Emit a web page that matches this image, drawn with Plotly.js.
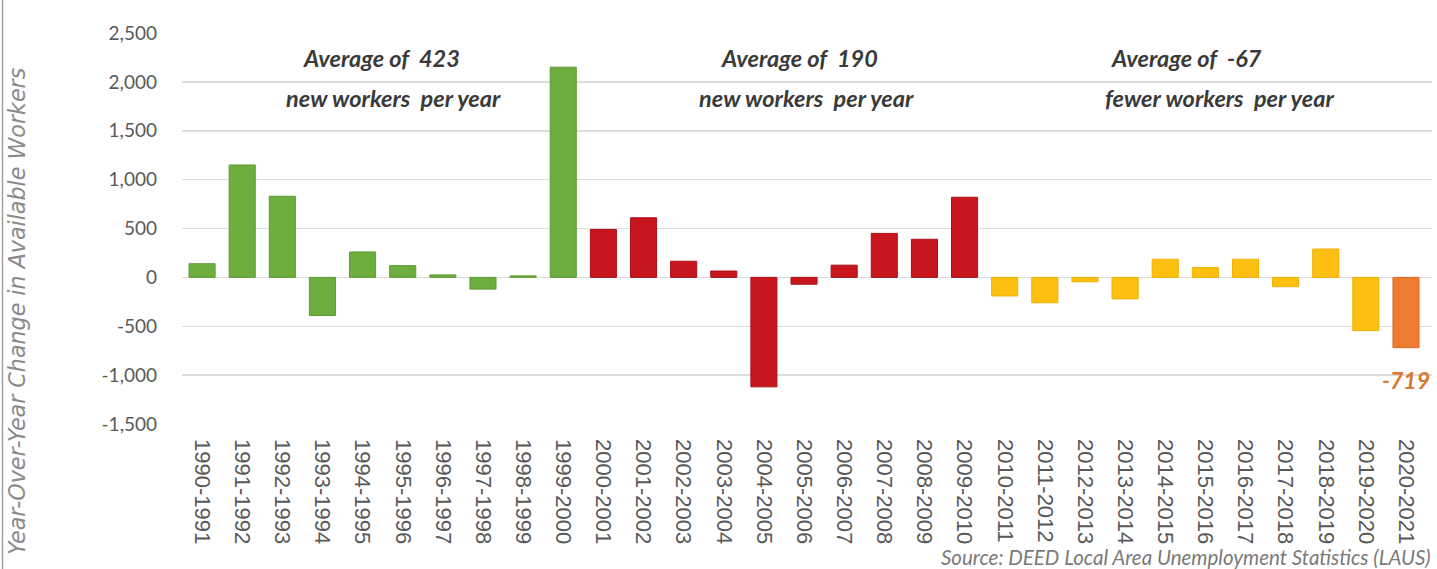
<!DOCTYPE html>
<html>
<head>
<meta charset="utf-8">
<script src="https://cdn.plot.ly/plotly-3.0.1.min.js"></script>
<style>
  html, body { margin: 0; padding: 0; background: #ffffff; }
  #chart { width: 1437px; height: 569px; }
</style>
</head>
<body>
<div id="chart"></div>
<script>
// ---- Data ----
const periods = [
  "1990-1991","1991-1992","1992-1993","1993-1994","1994-1995","1995-1996","1996-1997","1997-1998","1998-1999","1999-2000",
  "2000-2001","2001-2002","2002-2003","2003-2004","2004-2005","2005-2006","2006-2007","2007-2008","2008-2009","2009-2010",
  "2010-2011","2011-2012","2012-2013","2013-2014","2014-2015","2015-2016","2016-2017","2017-2018","2018-2019","2019-2020",
  "2020-2021"
];
const changeNineties = [140, 1150, 830, -390, 260, 120, 25, -120, 15, 2150];
const changeTwoThousands = [490, 610, 165, 65, -1120, -70, 125, 450, 390, 820];
const changeTwentyTens = [-190, -260, -45, -220, 185, 100, 185, -95, 290, -545];
const changeLatest = [-719];

const yTickValues = [-1500, -1000, -500, 0, 500, 1000, 1500, 2000, 2500];
const yTickLabels = ["-1,500", "-1,000", "-500", "0", "500", "1,000", "1,500", "2,000", "2,500"];

const averageLines = [
  ["Average of\u00a0\u00a0423", "new workers\u00a0\u00a0per year"],
  ["Average of\u00a0\u00a0190", "new workers\u00a0\u00a0per year"],
  ["Average of\u00a0\u00a0-67", "fewer workers\u00a0\u00a0per year"]
];
const yTitle = "Year-Over-Year Change in Available Workers";
const sourceText = "Source: DEED Local Area Unemployment Statistics (LAUS)";

// ---- Build ----
const values = changeNineties.concat(changeTwoThousands, changeTwentyTens, changeLatest);
const fills = [], edges = [];
const groups = [
  {n: changeNineties.length, fill: "#6DAE3F", edge: "#5E9A34"},
  {n: changeTwoThousands.length, fill: "#C8161E", edge: "#A81218"},
  {n: changeTwentyTens.length, fill: "#FDC010", edge: "#EDB000"},
  {n: changeLatest.length, fill: "#EE7B30", edge: "#D96A22"}
];
groups.forEach(g => { for (let i = 0; i < g.n; i++) { fills.push(g.fill); edges.push(g.edge); } });

const trace = {
  type: "bar",
  x: periods,
  y: values,
  marker: { color: fills, line: { color: edges, width: 1 } },
  hoverinfo: "x+y"
};

// pixel helpers for annotation placement (plot area: x 182..1432, y 33..424)
const L = 182, R = 1432, T = 33, B = 424;
const px = v => (v - L) / (R - L);
const py = v => (B - v) / (B - T);

const avgFont = { family: "Lato, 'Open Sans', sans-serif", size: 23.5, color: "#3A3A3A" };
const avgPos = [
  [[381, 58], [393, 98]],
  [[799, 58], [806, 98]],
  [[1186, 58], [1219, 98]]
];
const annotations = [];
averageLines.forEach((lines, gi) => {
  lines.forEach((t, li) => {
    annotations.push({
      xref: "paper", yref: "paper",
      x: px(avgPos[gi][li][0]), y: py(avgPos[gi][li][1]),
      xanchor: "center", yanchor: "middle",
      text: "<b><i>" + t + "</i></b>", showarrow: false, font: avgFont
    });
  });
});
annotations.push({
  xref: "paper", yref: "paper", x: px(17), y: py(311),
  xanchor: "center", yanchor: "middle", textangle: -90,
  text: "<i>" + yTitle + "</i>", showarrow: false,
  font: { family: "'DejaVu Sans', sans-serif", size: 22.2, color: "#8A8A8A" }
});
annotations.push({
  xref: "paper", yref: "paper", x: px(1433), y: py(557),
  xanchor: "right", yanchor: "middle",
  text: "<i>" + sourceText + "</i>", showarrow: false,
  font: { family: "Lato, 'Open Sans', sans-serif", size: 20.5, color: "#7A7A7A" }
});
const lastIdx = values.length - 1;
annotations.push({
  xref: "x", yref: "y", x: periods[lastIdx], y: values[lastIdx],
  xanchor: "center", yanchor: "top", yshift: -16,
  text: "<b><i>" + values[lastIdx] + "</i></b>", showarrow: false,
  font: { family: "Lato, 'Open Sans', sans-serif", size: 23, color: "#D9782F" }
});

const layout = {
  width: 1437, height: 569,
  margin: { l: L, r: 1437 - R, t: T, b: 569 - B, pad: 0 },
  paper_bgcolor: "#ffffff", plot_bgcolor: "#ffffff",
  showlegend: false,
  bargap: 0.35,
  xaxis: {
    type: "category",
    tickangle: 90,
    tickfont: { family: "'Liberation Sans', Arial, sans-serif", size: 22, color: "#595959" },
    showgrid: false, zeroline: false, showline: false,
    ticks: "", ticklabelstandoff: 14,
    automargin: false, fixedrange: true
  },
  yaxis: {
    range: [-1500, 2500],
    tickmode: "array", tickvals: yTickValues, ticktext: yTickLabels,
    tickfont: { family: "Lato, 'Open Sans', sans-serif", size: 19, color: "#595959" },
    showgrid: true, gridcolor: "#DCDCDC", gridwidth: 1.5,
    zeroline: true, zerolinecolor: "#DCDCDC", zerolinewidth: 1.5,
    showline: false, ticks: "", ticklabelstandoff: 24,
    automargin: false, fixedrange: true
  },
  annotations: annotations,
  shapes: [{
    type: "line", xref: "paper", yref: "paper",
    x0: px(2.5), x1: px(2.5), y0: py(0), y1: py(569),
    line: { color: "#A0A0A0", width: 1.5 }
  }]
};

Plotly.newPlot("chart", [trace], layout, { displayModeBar: false, staticPlot: true });
</script>
</body>
</html>
